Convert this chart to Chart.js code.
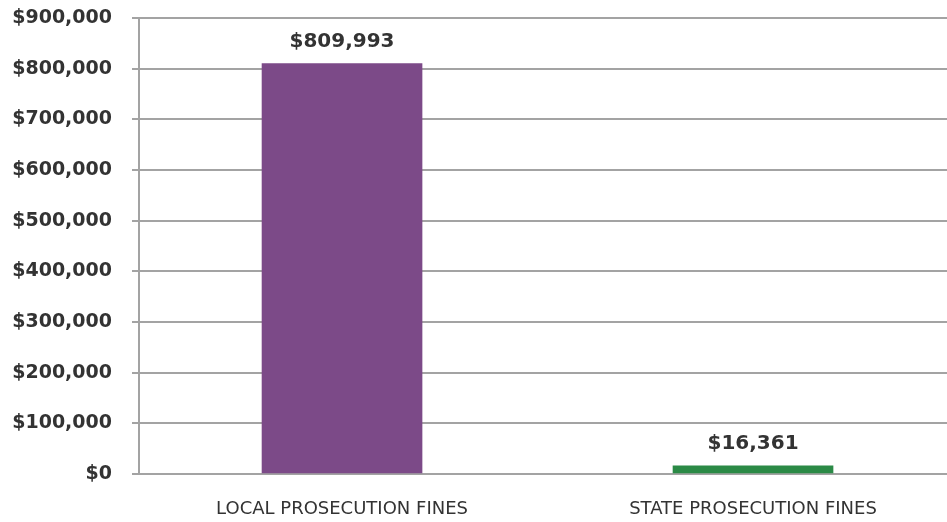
<!DOCTYPE html>
<html>
<head>
<meta charset="utf-8">
<title>Prosecution Fines</title>
<script src="https://cdn.jsdelivr.net/npm/chart.js@4/dist/chart.umd.min.js"></script>
<style>
  html, body { margin: 0; padding: 0; background: #ffffff; }
  #wrap { width: 947px; height: 522px; }
</style>
</head>
<body>
<div id="wrap"><canvas id="fines" width="947" height="522"></canvas></div>
<script>
// Chart data
const categories = ['LOCAL PROSECUTION FINES', 'STATE PROSECUTION FINES'];
const fineTotals = [809993, 16361];
const barColors = ['#7c4a88', '#2b8a46'];
const yTickValues = [0, 100000, 200000, 300000, 400000, 500000, 600000, 700000, 800000, 900000];

// Horizontal extent of the category axis (category index units)
const X_MIN = -0.494;
const X_MAX = 1.472;

const money = v => '$' + Math.round(v).toLocaleString('en-US');

// Value labels above each bar
const valueLabels = {
  id: 'valueLabels',
  afterDatasetsDraw(chart) {
    const ctx = chart.ctx;
    const meta = chart.getDatasetMeta(0);
    ctx.save();
    ctx.font = 'bold 20px "DejaVu Sans"';
    ctx.fillStyle = '#333333';
    ctx.textAlign = 'center';
    ctx.textBaseline = 'middle';
    meta.data.forEach((bar, i) => {
      ctx.fillText(money(fineTotals[i]), bar.x, bar.y - 22);
    });
    ctx.restore();
  }
};

new Chart(document.getElementById('fines'), {
  type: 'bar',
  data: {
    datasets: [{
      data: categories.map((c, i) => ({ x: i, y: fineTotals[i] })),
      backgroundColor: barColors,
      borderWidth: 0,
      barThickness: 160,
      grouped: false
    }]
  },
  options: {
    responsive: false,
    animation: false,
    events: [],
    layout: { padding: { left: 10, top: 18, right: 0, bottom: 3 } },
    plugins: { legend: { display: false }, tooltip: { enabled: false } },
    scales: {
      x: {
        type: 'linear',
        offset: false,
        min: X_MIN,
        max: X_MAX,
        grid: { display: false, drawTicks: false },
        border: { display: false },
        afterBuildTicks: scale => {
          scale.min = X_MIN;
          scale.max = X_MAX;
          scale.ticks = categories.map((c, i) => ({ value: i }));
        },
        afterFit: scale => { scale.height = 45; },
        ticks: {
          autoSkip: false,
          maxRotation: 0,
          minRotation: 0,
          padding: 25,
          color: '#333333',
          font: { family: '"DejaVu Sans"', size: 18, weight: 'normal' },
          callback: (v, i) => categories[i]
        }
      },
      y: {
        min: 0,
        max: 900000,
        afterBuildTicks: scale => { scale.ticks = yTickValues.map(v => ({ value: v })); },
        afterFit: scale => {
          scale.width = 129;
          scale.paddingTop = 0;
          scale.paddingBottom = 0;
        },
        grid: { color: '#a3a3a3', lineWidth: 2, tickLength: 7, drawTicks: true },
        border: { display: true, color: '#a3a3a3', width: 2 },
        ticks: {
          padding: 20,
          color: '#333333',
          font: { family: '"DejaVu Sans"', size: 19, weight: 'bold' },
          callback: v => money(v)
        }
      }
    }
  },
  plugins: [valueLabels]
});
</script>
</body>
</html>
